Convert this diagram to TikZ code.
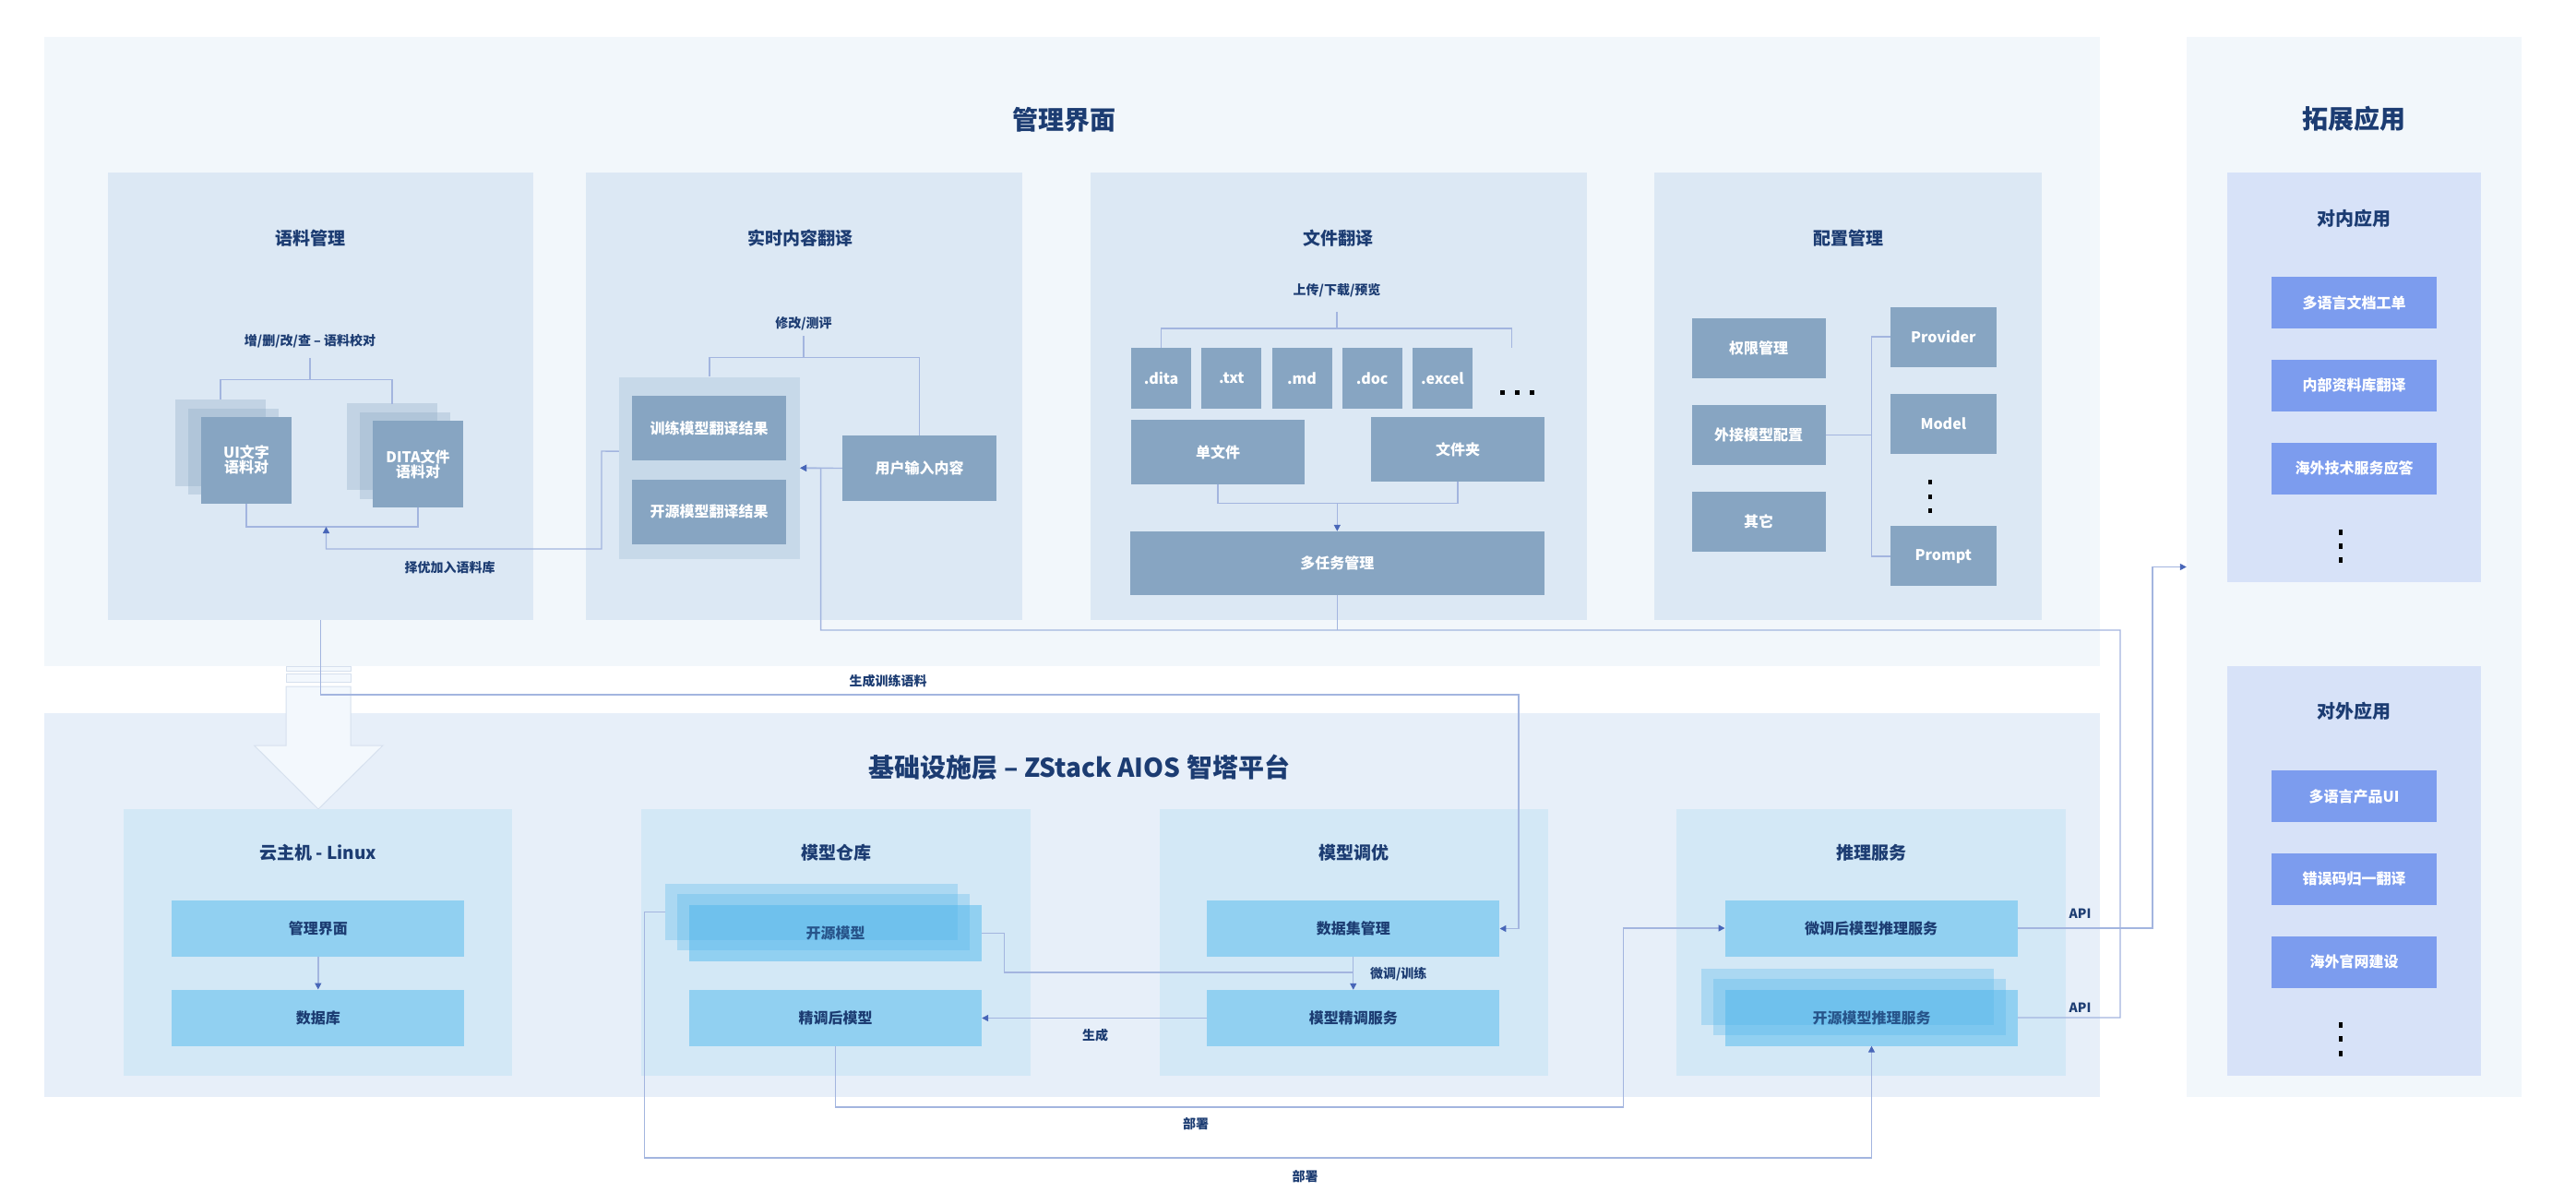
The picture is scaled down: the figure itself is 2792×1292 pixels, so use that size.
\documentclass[tikz,border=0pt]{standalone}
\usepackage{fontspec}
\setmainfont{Noto Sans CJK SC}
\usetikzlibrary{arrows.meta}
\definecolor{panelbg}{HTML}{F2F7FB}
\definecolor{subbg}{HTML}{DCE8F4}
\definecolor{groupbg}{HTML}{C7D9E9}
\definecolor{greyc}{HTML}{87A5C2}
\definecolor{infrabg}{HTML}{E7EFF9}
\definecolor{infrasub}{HTML}{D3E8F6}
\definecolor{skyc}{HTML}{91D0F1}
\definecolor{layerc}{HTML}{50B4EB}
\definecolor{extsub}{HTML}{D7E2F8}
\definecolor{appc}{HTML}{7C9CEE}
\definecolor{navy}{HTML}{1C3C72}
\definecolor{wirec}{HTML}{A3B5DF}
\definecolor{tipc}{HTML}{4866B8}
\definecolor{fatc}{HTML}{F3F8FD}
\definecolor{fatline}{HTML}{D6E0EE}
\newcommand\SetSize[1]{\fontsize{#1}{#1}\selectfont}
\newcommand\StackLayer[5]{
  \fill[#4,fill opacity=#5,shift={#1}] (-#2/2,-#3/2) rectangle (#2/2,#3/2);
}

\begin{document}
\begin{tikzpicture}[x=1pt,y=-1pt,
  every node/.style={inner sep=0pt,font=\bfseries},
  paneltitle/.style={text=navy,font=\bfseries\SetSize{28}},
  boxtitle/.style={text=navy,font=\bfseries\SetSize{19}},
  wirelabel/.style={text=navy,font=\bfseries\SetSize{14}},
  greybox/.style={fill=greyc,text=white,align=center,font=\bfseries\SetSize{16}},
  skybox/.style={fill=skyc,text=navy,minimum width=317,minimum height=61,font=\bfseries\SetSize{16}},
  layertext/.style={text=navy!80!layerc,font=\bfseries\SetSize{16}},
  appbox/.style={fill=appc,text=white,minimum width=179,minimum height=56,font=\bfseries\SetSize{16}},
  wire/.style={draw=wirec,line width=1.4pt},
  wirearrow/.style={wire,-{Triangle[width=7pt,length=7pt,color=tipc]}}]
\useasboundingbox (0,0) rectangle (2792,1292);
\fill[white] (0,0) rectangle (2792,1292);

% outer panels
\node[fill=panelbg,minimum width=2228,minimum height=682] (mgmt) at (1162,381) {};
\node[fill=panelbg,minimum width=363,minimum height=1149] (ext) at (2551.5,614.5) {};
\node[fill=infrabg,minimum width=2228,minimum height=416] (infra) at (1162,981) {};
\node[paneltitle] (mgmtttl) at (1153,129.5) {管理界面};
\node[paneltitle] (extttl) at (2551,129) {拓展应用};
\node[paneltitle] (infrattl) at (1170,831.5) {基础设施层 – ZStack AIOS 智塔平台};

% big down arrow
\draw[fill=fatc,draw=fatline,line width=1pt] (310,744) -- (380,744) -- (380,808) -- (415,808)
  -- (345,877) -- (275.5,808) -- (310,808) -- cycle;
\draw[fill=fatc,draw=fatline,line width=1pt] (310,722) rectangle (380,727);
\draw[fill=fatc,draw=fatline,line width=1pt] (310,730) rectangle (380,739);

% 语料管理
\node[fill=subbg,minimum width=461,minimum height=484.5] (corpus) at (347.5,429.75) {};
\node[boxtitle] (corpusttl) at (336,258) {语料管理};
\node[wirelabel] (editlbl) at (336,369.6) {增/删/改/查 – 语料校对};
\StackLayer{(239,479.75)}{98}{93.5}{greyc}{0.3}
\StackLayer{(252.5,489.25)}{98}{93.5}{greyc}{0.3}
\node[greybox,minimum width=98,minimum height=93.5] (uipair) at (267,498.75) {UI文字\\语料对};
\StackLayer{(425,484)}{98}{94}{greyc}{0.3}
\StackLayer{(438.5,493.5)}{98}{94}{greyc}{0.3}
\node[greybox,minimum width=98,minimum height=94] (ditapair) at (453,503) {DITA文件\\语料对};
\node[wirelabel] (picklbl) at (487.7,615) {择优加入语料库};

% 实时内容翻译
\node[fill=subbg,minimum width=473,minimum height=484.5] (realtime) at (871.5,429.75) {};
\node[boxtitle] (realtimettl) at (867,258) {实时内容翻译};
\node[wirelabel] (reviewlbl) at (871,351) {修改/测评};
\node[fill=groupbg,minimum width=196,minimum height=197.5] (results) at (769,507.25) {};
\node[greybox,minimum width=167,minimum height=70] (trainres) at (768.5,464) {训练模型翻译结果};
\node[greybox,minimum width=167,minimum height=70] (osres) at (768.5,554.8) {开源模型翻译结果};
\node[greybox,minimum width=167,minimum height=71] (userin) at (996.5,507.5) {用户输入内容};

% 文件翻译
\node[fill=subbg,minimum width=538.5,minimum height=484.5] (filetr) at (1450.75,429.75) {};
\node[boxtitle] (filetrttl) at (1450,258) {文件翻译};
\node[wirelabel] (uplbl) at (1449,315) {上传/下载/预览};
\foreach \fmt [count=\i from 0] in {.dita,.txt,.md,.doc,.excel}
  \node[greybox,minimum width=65,minimum height=65.7] (fmt\i) at (1258.6+76.2*\i,410) {\fmt};
\foreach \x in {1628.8,1644.6,1660.4}
  \fill[black] (\x-2.5,422.5) rectangle ++(5,5);
\node[greybox,minimum width=188,minimum height=70] (single) at (1320,490) {单文件};
\node[greybox,minimum width=188,minimum height=70] (folder) at (1580,487) {文件夹};
\node[greybox,minimum width=448.6,minimum height=69] (multi) at (1449.3,610.5) {多任务管理};

% 配置管理
\node[fill=subbg,minimum width=420,minimum height=484.5] (config) at (2003,429.75) {};
\node[boxtitle] (configttl) at (2003,258) {配置管理};
\node[greybox,minimum width=145,minimum height=65] (perm) at (1906,377) {权限管理};
\node[greybox,minimum width=145,minimum height=65] (extmodel) at (1906,471.6) {外接模型配置};
\node[greybox,minimum width=145,minimum height=65] (other) at (1906,565.7) {其它};
\node[greybox,minimum width=114.6,minimum height=65] (provider) at (2106.3,365) {Provider};
\node[greybox,minimum width=114.6,minimum height=65] (model) at (2106.3,459.7) {Model};
\node[greybox,minimum width=114.6,minimum height=65] (prompt) at (2106.3,602.8) {Prompt};
\foreach \y in {522,538,553.5}
  \fill[black] (2089.5,\y-2.5) rectangle ++(4.4,5);

% 拓展应用
\node[fill=extsub,minimum width=275,minimum height=444] (inapps) at (2551.5,409) {};
\node[boxtitle,font=\bfseries\SetSize{20}] (inappsttl) at (2551.5,236.5) {对内应用};
\foreach \t [count=\i from 0] in {多语言文档工单,内部资料库翻译,海外技术服务应答}
  \node[appbox] (inapp\i) at (2551.5,328+89.75*\i) {\t};
\node[fill=extsub,minimum width=275,minimum height=444] (outapps) at (2551.5,944) {};
\node[boxtitle,font=\bfseries\SetSize{20}] (outappsttl) at (2551.5,771) {对外应用};
\foreach \t [count=\i from 0] in {多语言产品UI,错误码归一翻译,海外官网建设}
  \node[appbox] (outapp\i) at (2551.5,863+89.75*\i) {\t};
\foreach \y in {577,592,606.5,1111,1126,1142}
  \fill[black] (2535,\y-3) rectangle ++(4,6);

% 云主机 - Linux
\node[fill=infrasub,minimum width=421,minimum height=289] (host) at (344.5,1021.5) {};
\node[boxtitle] (hostttl) at (344.5,924) {云主机 - Linux};
\node[skybox] (hostui) at (344.8,1006) {管理界面};
\node[skybox] (hostdb) at (344.8,1103.2) {数据库};

% 模型仓库
\node[fill=infrasub,minimum width=422,minimum height=289] (repo) at (906,1021.5) {};
\node[boxtitle] (repottl) at (906,924) {模型仓库};
\node[skybox] (osmodel) at (905.5,1011.5) {};
\StackLayer{(892.5,999.5)}{317}{61}{layerc}{0.3}
\StackLayer{(879.5,988.5)}{317}{61}{layerc}{0.3}
\node[layertext] (osmodeltxt) at (osmodel) {开源模型};
\coordinate (osmodelback) at (721,988.5);
\node[skybox] (tuned) at (905.5,1103.5) {精调后模型};

% 模型调优
\node[fill=infrasub,minimum width=421,minimum height=289] (tuning) at (1467,1021.5) {};
\node[boxtitle] (tuningttl) at (1467,924) {模型调优};
\node[skybox] (dataset) at (1466.75,1006.5) {数据集管理};
\node[skybox] (tunesvc) at (1466.75,1103.5) {模型精调服务};

% 推理服务
\node[fill=infrasub,minimum width=421.5,minimum height=289] (infer) at (2028,1021.5) {};
\node[boxtitle] (inferttl) at (2028,924) {推理服务};
\node[skybox] (tunedinf) at (2028.2,1006) {微调后模型推理服务};
\node[skybox] (osinf) at (2028.5,1103) {};
\StackLayer{(2015.5,1091)}{317}{61}{layerc}{0.3}
\StackLayer{(2002.5,1080)}{317}{61}{layerc}{0.3}
\node[layertext] (osinftxt) at (osinf) {开源模型推理服务};

% connectors, top
\draw[wire] (336,388) -- (336,411.6);
\draw[wire] (239,433) |- (425,411.6) -- (425,437.5);
\draw[wire] (uipair.south) |- (453,571) -- (ditapair.south);
\draw[wirearrow] (results.west |- trainres.south) ++(0,-10) -- (652,489) |- (353.5,595) -- (353.5,571);
\draw[wire] (871,364) -- (871,387.5);
\draw[wire] (results.north) |- (userin.north |- 0,387.5) -- (userin.north);
\draw[wirearrow] (userin.west) -- (results.east);
\draw[wirearrow] (osinf.east) -| (2298,683) -| (889.6,507.5) -- (results.east);
\draw[wire] (multi.south) -- (1449.3,683);
\draw[wire] (1449,338) -- (1449,356);
\draw[wire] (fmt0.north) |- (1638.4,356) -- (1638.4,377);
\draw[wire] (single.south) |- (folder.south |- 0,545.5) -- (folder.south);
\draw[wirearrow] (1449.3,545.5) -- (multi.north);
\draw[wire] (extmodel.east) -- (2028.6,471.6);
\draw[wire] (provider.west) -| (2028.6,602.8) -- (prompt.west);

% connectors, bottom
\draw[wirearrow] (corpus.south) |- (1646,753) |- (dataset.east);
\node[wirelabel] (genlbl) at (962.5,737.7) {生成训练语料};
\draw[wirearrow] (hostui.south) -- (hostdb.north);
\draw[wire] (osmodel.east) -| (1088.5,1054) -- (1466.75,1054);
\draw[wirearrow] (dataset.south) -- (tunesvc.north);
\node[wirelabel] (ftlbl) at (1515.7,1055.7) {微调/训练};
\draw[wirearrow] (tunesvc.west) -- (tuned.east);
\node[wirelabel] (makelbl) at (1187,1122) {生成};
\draw[wirearrow] (tuned.south) |- (1759.5,1200) |- (tunedinf.west);
\node[wirelabel] (deploylbl) at (1296,1218) {部署};
\draw[wirearrow] (osmodelback) -| (698.7,1255) -| (osinf.south);
\node[wirelabel] (deploylblb) at (1414.5,1275) {部署};
\draw[wirearrow] (tunedinf.east) -| (2333,614.5) -- (ext.west);
\node[wirelabel] (apilbl) at (2254.5,990) {API};
\node[wirelabel] (apilblb) at (2254.5,1092) {API};
\end{tikzpicture}
\end{document}
